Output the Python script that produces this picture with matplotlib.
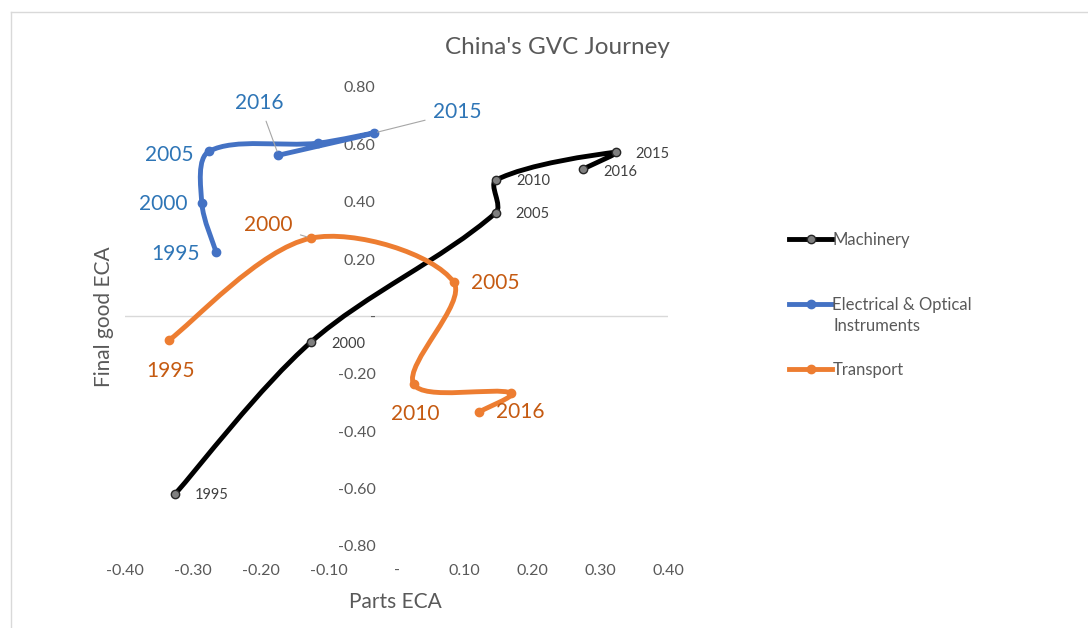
import numpy as np
import matplotlib.pyplot as plt
from matplotlib.path import Path
from matplotlib.patches import PathPatch
from matplotlib.lines import Line2D

plt.rcParams['font.family'] = ['Lato', 'DejaVu Sans']

# --- data ------------------------------------------------------------------
years = [1995, 2000, 2005, 2010, 2015, 2016]

mach_x = [-0.326, -0.126, 0.146, 0.147, 0.324, 0.275]
mach_y = [-0.618, -0.089, 0.361, 0.476, 0.573, 0.514]

elec_x = [-0.266, -0.287, -0.276, -0.116, -0.034, -0.174]
elec_y = [0.225, 0.395, 0.576, 0.604, 0.639, 0.562]

trans_x = [-0.335, -0.126, 0.084, 0.025, 0.169, 0.121]
trans_y = [-0.082, 0.273, 0.120, -0.235, -0.267, -0.333]

x_ticks = [-0.4, -0.3, -0.2, -0.1, 0.0, 0.1, 0.2, 0.3, 0.4]
y_ticks = [-0.8, -0.6, -0.4, -0.2, 0.0, 0.2, 0.4, 0.6, 0.8]

# label offsets in pixels (None = no label)
mach_off = [(36, -1), (37, -2), (37, -1), (37, -1), (36, -2), (37, -3)]
elec_off = [(-41, -2), (-39, -1), (-40, -4), None, (84, 21), (-19, 52)]
trans_off = [(1, -31), (-43, 13), (42, -1), (2, -30), None, (42, 0)]

# pixels per data unit (used only to weigh segment lengths when smoothing)
PX_X, PX_Y = 543 / 0.8, 459 / 1.6


def smooth_path(xs, ys, tension=1 / 3):
    """Excel-like smoothed line: cubic Bezier segments whose handles are
    scaled by the neighbouring segment lengths (no overshoot on short hops)."""
    p = np.column_stack([xs, ys])
    n = len(p)
    d = np.hypot(np.diff(p[:, 0]) * PX_X, np.diff(p[:, 1]) * PX_Y)
    verts = [p[0]]
    codes = [Path.MOVETO]
    for i in range(n - 1):
        p1, p2 = p[i], p[i + 1]
        if i > 0:
            t1 = (p2 - p[i - 1]) * d[i] / (d[i - 1] + d[i])
        else:
            t1 = (p2 - p1) * 0.5
        if i + 2 < n:
            t2 = (p[i + 2] - p1) * d[i] / (d[i] + d[i + 1])
        else:
            t2 = (p2 - p1) * 0.5
        verts += [p1 + t1 * tension, p2 - t2 * tension, p2]
        codes += [Path.CURVE4] * 3
    return Path(verts, codes)


def fmt(v):
    return "-" if abs(v) < 1e-9 else f"{v:.2f}"


fig = plt.figure(figsize=(10.88, 6.28), dpi=100)
ax = fig.add_axes([0.115, 0.1306, 0.499, 0.731])
ax.set_xlim(-0.4, 0.4)
ax.set_ylim(-0.8, 0.8)

ax.axhline(0, color="#D9D9D9", lw=1, zorder=0)

series = [
    (mach_x, mach_y, "black", "#7F7F7F", "#262626", mach_off, "#404040", 10.5, "Machinery"),
    (elec_x, elec_y, "#4472C4", "#4472C4", "#4472C4", elec_off, "#2E75B6", 15, "Electrical & Optical"),
    (trans_x, trans_y, "#ED7D31", "#ED7D31", "#ED7D31", trans_off, "#C55A11", 15, "Transport"),
]

handles = []
for xs, ys, lc, mfc, mec, offs, tc, fs, name in series:
    ax.add_patch(PathPatch(smooth_path(xs, ys), facecolor="none", edgecolor=lc,
                           lw=3.5, capstyle="round", joinstyle="round", zorder=2))
    ax.plot(xs, ys, "o", ms=6, mfc=mfc, mec=mec, mew=1, zorder=3)
    for x, y, yr, off in zip(xs, ys, years, offs):
        if off is None:
            continue
        leader = None
        if abs(off[1]) > 10 and abs(off[0]) > 10:
            leader = dict(arrowstyle="-", color="#A6A6A6", lw=0.8,
                          shrinkA=4, shrinkB=3)
        ax.annotate(str(yr), (x, y), xytext=off, textcoords="offset pixels",
                    ha="center", va="center", fontsize=fs, color=tc,
                    arrowprops=leader, zorder=4)
    handles.append(Line2D([], [], color=lc, lw=3.5, marker="o", ms=6,
                          mfc=mfc, mec=mec, label=name))

# axes: y labels sit at x = 0, x labels along the bottom
for s in ax.spines.values():
    s.set_visible(False)
ax.spines["left"].set_position(("data", 0))
ax.set_xticks(x_ticks, [fmt(v) for v in x_ticks])
ax.set_yticks(y_ticks, [fmt(v) for v in y_ticks])
ax.tick_params(length=0, labelsize=11.5, labelcolor="#595959")
ax.tick_params(axis="x", pad=13)
ax.tick_params(axis="y", pad=15)

fig.text(0.363, 0.041, "Parts ECA", ha="center", va="center",
         fontsize=15, color="#595959")
fig.text(0.096, 0.496, "Final good ECA", ha="center", va="center",
         rotation=90, fontsize=15, color="#595959")
fig.text(0.512, 0.925, "China's GVC Journey", ha="center", va="center",
         fontsize=17.5, color="#595959")

leg = fig.legend(handles=handles, loc="upper left", bbox_to_anchor=(0.7115, 0.655),
                 frameon=False, fontsize=12, handlelength=2.6, handletextpad=0.0,
                 labelspacing=2.95, labelcolor="#595959")
fig.text(0.766, 0.481, "Instruments", ha="left", va="center", fontsize=12,
         color="#595959")

# light frame along top and left
fig.add_artist(Line2D([0.0101, 1.0], [0.981, 0.981], color="#D9D9D9", lw=1))
fig.add_artist(Line2D([0.0101, 0.0101], [0.0, 0.981], color="#D9D9D9", lw=1))

fig.savefig("out.png", dpi=100)
